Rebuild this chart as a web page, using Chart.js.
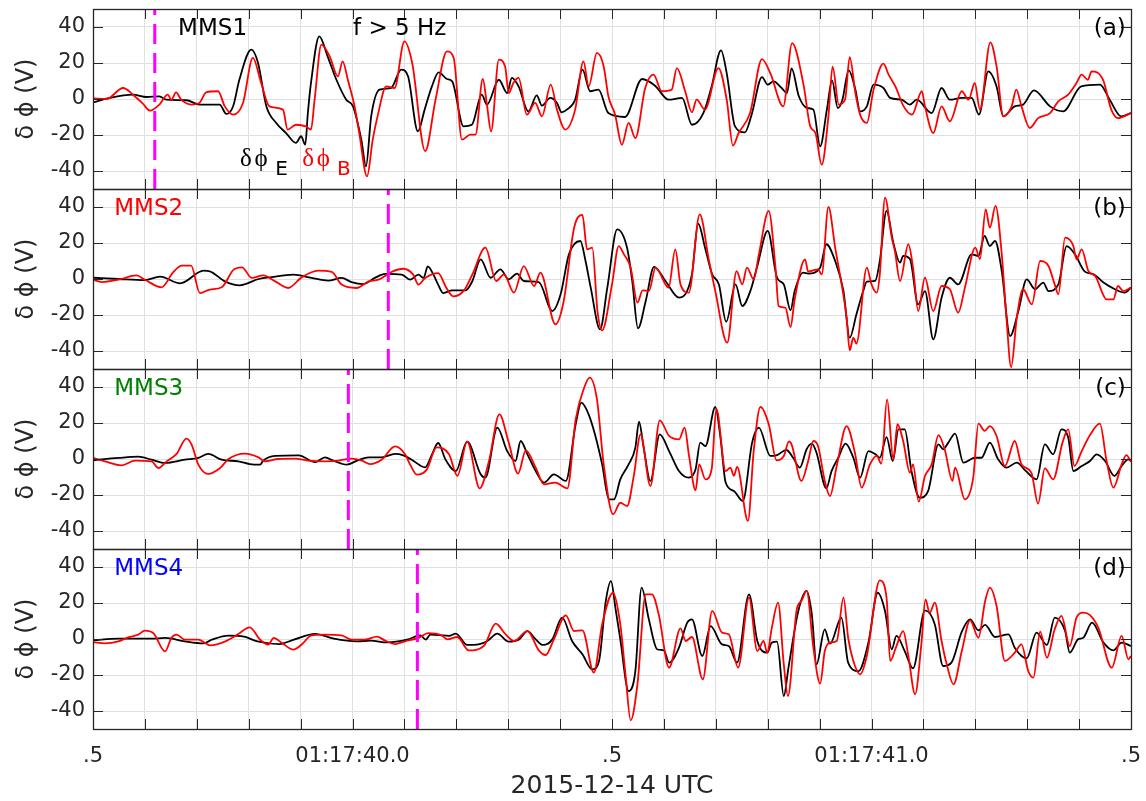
<!DOCTYPE html>
<html>
<head>
<meta charset="utf-8">
<title>MMS delta phi, f > 5 Hz</title>
<script src="https://cdn.jsdelivr.net/npm/chart.js@4.4.1/dist/chart.umd.min.js"></script>
<style>
  html, body { margin: 0; padding: 0; background: #fff; }
  canvas { display: block; }
</style>
</head>
<body>
<canvas id="chart" width="1146" height="801"></canvas>
<script>
// time axis: seconds of 01:17 (2015-12-14 UTC)
const xTickValues = [39.5, 40.0, 40.5, 41.0, 41.5];
const xTickText = ['.5', '01:17:40.0', '.5', '01:17:41.0', '.5'];
const yTickValues = [-40, -20, 0, 20, 40];

const panelNames = ['MMS1', 'MMS2', 'MMS3', 'MMS4'];
const panelNameColors = ['#000000', '#ff0000', '#008000', '#0000ff'];
const panelTags = ['(a)', '(b)', '(c)', '(d)'];
// magenta dashed markers, one per spacecraft
const markerTimes = [39.619, 40.069, 39.992, 40.125];

// [time (s), delta phi (V)]
const mms1E = [[39.500,-1.9],[39.532,0.6],[39.577,2.4],[39.603,1.1],[39.628,1.5],[39.641,-0.4],[39.680,-0.7],[39.705,-3.1],[39.744,-3.1],[39.757,-8.3],[39.770,-4],[39.782,10.7],[39.805,27.4],[39.818,20],[39.834,-4],[39.853,-13.3],[39.872,-18.9],[39.891,-24.4],[39.901,-20.7],[39.909,-25.4],[39.914,-7.8],[39.920,8.9],[39.936,34.8],[39.952,23.7],[39.969,10.7],[39.988,-0.4],[40.001,-4.1],[40.017,-22.6],[40.026,-37.4],[40.036,-9.6],[40.052,5.2],[40.074,6.1],[40.094,16.3],[40.107,12.6],[40.126,-18],[40.139,-5.9],[40.153,7],[40.166,14.8],[40.182,11.1],[40.192,9.8],[40.214,-15.2],[40.230,-14.3],[40.249,2.4],[40.259,-3.1],[40.282,10.7],[40.298,3.3],[40.307,11.7],[40.320,7],[40.339,-6.9],[40.355,2],[40.365,-3.7],[40.381,0.6],[40.394,-2.2],[40.403,-7.4],[40.413,-5.9],[40.429,-0.4],[40.443,16.3],[40.458,4.3],[40.474,5.2],[40.493,-7.8],[40.525,-10],[40.558,11.1],[40.583,7.4],[40.609,-0.4],[40.635,0.6],[40.654,-14.3],[40.676,-7.8],[40.692,7],[40.710,27],[40.721,14.4],[40.737,-15.2],[40.756,-18.5],[40.769,-8.7],[40.789,12.2],[40.800,8],[40.811,9.8],[40.827,6.1],[40.837,3.3],[40.846,17],[40.860,1.5],[40.876,-5],[40.888,-5.9],[40.901,-26.3],[40.914,-5.9],[40.924,10.4],[40.935,-5],[40.944,-0.4],[40.956,15.9],[40.969,5.2],[40.978,-6.9],[40.991,-4.1],[41.004,8],[41.023,6.1],[41.036,0.6],[41.058,-0.4],[41.074,-3.1],[41.087,-0.4],[41.116,-7.8],[41.135,6.1],[41.151,-0.4],[41.174,0.6],[41.193,0.6],[41.207,-8.7],[41.225,15.4],[41.241,7],[41.254,-9.6],[41.276,-4.1],[41.292,-3.1],[41.313,4.8],[41.344,-4.1],[41.369,-6.9],[41.404,7],[41.440,8],[41.459,-0.4],[41.481,-9.6],[41.500,-7.8]];
const mms1B = [[39.500,0.4],[39.526,0],[39.558,6.1],[39.577,2.4],[39.596,-2.6],[39.610,-6.5],[39.628,-3.1],[39.644,2.4],[39.651,-0.4],[39.660,3.7],[39.670,-0.4],[39.689,-3.1],[39.705,-2.2],[39.718,3.7],[39.741,4.3],[39.754,-4.1],[39.770,-8.7],[39.789,-2.2],[39.808,22.8],[39.824,8.9],[39.840,-4.1],[39.866,-5.9],[39.875,-17],[39.891,-14.3],[39.910,-15.2],[39.920,-17],[39.927,-0.4],[39.940,30.2],[39.956,23.7],[39.972,12.6],[39.981,20.9],[39.991,10.7],[40.004,-4.1],[40.013,-18.9],[40.028,-43],[40.039,-22.6],[40.049,-8.7],[40.065,7],[40.081,6.1],[40.100,32],[40.115,20],[40.140,-29],[40.160,-0.4],[40.182,26.5],[40.195,22.8],[40.211,-22.6],[40.227,-19.8],[40.237,-19.8],[40.251,11.1],[40.259,-3.1],[40.267,-18],[40.282,21.9],[40.294,18.1],[40.301,3.3],[40.310,8.9],[40.320,11.7],[40.336,-8.7],[40.352,-2.2],[40.365,-9.6],[40.382,8],[40.394,-5.9],[40.410,-17],[40.429,-5.9],[40.445,20.9],[40.455,7],[40.471,25.6],[40.484,18.1],[40.493,1.5],[40.506,-8.7],[40.519,-25.4],[40.532,-13.3],[40.545,-21.7],[40.564,6.1],[40.580,13.5],[40.596,4.3],[40.615,5.2],[40.625,17.2],[40.641,4.3],[40.654,-7.4],[40.663,-0.4],[40.679,-5.9],[40.705,17.2],[40.721,-0.4],[40.733,-25.9],[40.744,-18.9],[40.766,-7.8],[40.789,22.2],[40.805,14.4],[40.830,-4.1],[40.847,31],[40.869,8],[40.882,-15.2],[40.892,-18.9],[40.904,-36.5],[40.917,-9.6],[40.925,18],[40.937,-3.1],[40.949,-0.4],[40.958,23.3],[40.969,3.3],[40.978,-8.7],[40.991,-13.3],[41.004,5.2],[41.023,19.6],[41.033,13.5],[41.046,7],[41.062,-4.1],[41.078,-8.7],[41.097,4.3],[41.103,-4.1],[41.119,-18.9],[41.135,-4.1],[41.151,-12.4],[41.174,4.3],[41.187,-0.4],[41.199,8.9],[41.209,-5.9],[41.229,31.5],[41.241,18.1],[41.254,-9.6],[41.270,-4.1],[41.279,5.2],[41.289,-4.1],[41.305,-16.1],[41.321,-10.6],[41.344,-7.8],[41.360,-1.3],[41.379,2.4],[41.395,8.9],[41.405,13.5],[41.417,10.7],[41.424,15.4],[41.446,10.7],[41.462,-5.9],[41.475,-10.6],[41.500,-7.8]];

const mms2E = [[39.500,0.7],[39.549,0],[39.600,-0.6],[39.629,1.3],[39.668,-2.4],[39.713,4.6],[39.725,4.3],[39.754,-1.3],[39.783,-3.5],[39.819,0],[39.844,1.1],[39.886,2.4],[39.921,0.6],[39.953,-0.9],[39.979,0.6],[39.998,-1.7],[40.021,-2.8],[40.043,0.6],[40.063,2.8],[40.095,2.4],[40.111,-0.4],[40.127,2.4],[40.137,0.6],[40.145,7],[40.156,2.4],[40.165,-3.1],[40.175,-7.8],[40.192,-6.3],[40.218,-6.3],[40.231,-1.1],[40.247,10.9],[40.266,0.7],[40.285,5.4],[40.301,-0.2],[40.317,3],[40.330,-1.1],[40.359,-1.7],[40.385,-17.8],[40.401,-8.5],[40.417,13.7],[40.439,21.1],[40.449,10],[40.459,-4.8],[40.477,-28],[40.491,-4.8],[40.510,27.6],[40.529,17.4],[40.539,-1.1],[40.550,-27.4],[40.565,-12.2],[40.581,6.7],[40.603,-1.1],[40.629,-10.4],[40.654,2.6],[40.666,30.7],[40.680,16.5],[40.693,2.6],[40.706,-3],[40.720,-23.7],[40.738,-3],[40.751,-15],[40.767,-6.3],[40.780,7.2],[40.800,26.7],[40.818,0.7],[40.831,-3],[40.844,-17.4],[40.852,-6.7],[40.868,3.5],[40.878,3],[40.901,6.3],[40.913,19.3],[40.930,10],[40.946,-6.7],[40.958,-32.6],[40.971,-19.6],[40.984,-6.7],[40.991,-1.5],[41.007,-1.1],[41.016,10],[41.029,37.8],[41.042,20.2],[41.055,9.1],[41.061,12.8],[41.074,11.1],[41.090,-14.1],[41.103,-6.7],[41.119,-33.5],[41.135,-10.4],[41.151,0.7],[41.167,-3],[41.193,13.7],[41.206,12.8],[41.218,23.9],[41.228,18.3],[41.238,21.1],[41.251,4.4],[41.267,-31.7],[41.283,-17.8],[41.299,-0.2],[41.315,-5.7],[41.331,-2],[41.341,-6.7],[41.360,-3],[41.376,18.3],[41.392,13.7],[41.411,4.1],[41.428,2.6],[41.447,-2],[41.469,-5.7],[41.488,-7.6],[41.500,-4.8]];
const mms2B = [[39.500,-0.4],[39.517,-1.7],[39.549,-0.4],[39.584,2],[39.600,-0.4],[39.632,-4.6],[39.655,3.9],[39.671,7.4],[39.689,7.4],[39.706,-7.8],[39.725,-5.9],[39.748,-4.6],[39.771,5.2],[39.787,6.5],[39.806,0.6],[39.828,2],[39.851,-1.3],[39.876,-5],[39.902,0.9],[39.934,4.6],[39.960,3.9],[39.979,-3.1],[40.008,-5],[40.031,-1.3],[40.050,-0.4],[40.075,3.9],[40.098,5.7],[40.117,2.4],[40.127,-3.1],[40.140,0.6],[40.165,3.3],[40.181,-5],[40.194,-9.6],[40.215,-6.3],[40.231,2.6],[40.256,17.4],[40.277,-1.1],[40.292,2.6],[40.311,-7.6],[40.330,7.2],[40.350,-3.9],[40.362,3.5],[40.391,-25.2],[40.407,-12.2],[40.427,28.5],[40.443,35.6],[40.452,16.5],[40.462,17.4],[40.472,-17.8],[40.481,-28.5],[40.500,-3],[40.513,18.3],[40.523,13.7],[40.536,6.3],[40.549,-13.1],[40.559,-6.3],[40.571,-6.7],[40.584,6.3],[40.609,-4.8],[40.622,16.5],[40.632,-3],[40.648,-7.6],[40.669,35.9],[40.687,10],[40.699,-6.7],[40.722,-35.4],[40.740,4.4],[40.751,-3],[40.760,6.3],[40.773,-0.2],[40.783,13.7],[40.802,37.8],[40.815,6.3],[40.821,-15],[40.834,-15.9],[40.844,-26.7],[40.852,-11.3],[40.872,10.9],[40.878,4.1],[40.897,5.4],[40.904,2.6],[40.917,40],[40.930,17.4],[40.952,-21.5],[40.958,-39.6],[40.965,-32.6],[40.971,-35.9],[40.991,6.3],[41.000,-3],[41.010,-7.6],[41.016,2.6],[41.026,45.2],[41.039,23],[41.045,15.6],[41.055,-1.1],[41.071,19.3],[41.080,6.3],[41.090,-17.8],[41.103,0.7],[41.119,-17.8],[41.135,-3.9],[41.151,-5.7],[41.167,-18.7],[41.180,-4.8],[41.200,17.4],[41.209,11.1],[41.220,38.7],[41.228,28.5],[41.239,40.6],[41.251,13.7],[41.260,-21.5],[41.269,-49],[41.280,-21.5],[41.292,-5.7],[41.309,-14.1],[41.325,10],[41.341,7.2],[41.353,-3],[41.360,-8.5],[41.373,23],[41.389,18.3],[41.395,10.9],[41.405,16.5],[41.418,4.4],[41.431,1.7],[41.453,-11.3],[41.466,-11.3],[41.475,-3.9],[41.485,-6.7],[41.500,-4.8]];

const mms3E = [[39.500,-0.7],[39.549,0.6],[39.587,1.3],[39.613,-0.4],[39.639,-2.2],[39.677,-0.4],[39.703,0.6],[39.722,2.8],[39.748,-0.4],[39.780,-1.3],[39.802,-2.8],[39.822,-3.1],[39.828,-0.9],[39.851,1.7],[39.896,2],[39.928,-1.7],[39.947,0.9],[39.963,-0.9],[39.989,-3.1],[40.011,-0.6],[40.031,0.9],[40.056,0.9],[40.082,2.8],[40.098,2],[40.114,-0.4],[40.140,-4.6],[40.153,2.4],[40.165,8.9],[40.179,-0.2],[40.199,-6.7],[40.221,9.6],[40.247,-8.5],[40.256,-10.4],[40.279,17.4],[40.298,4.4],[40.314,-1.1],[40.324,10],[40.337,2.6],[40.353,-6.7],[40.369,-13.1],[40.388,-8.5],[40.411,-12.2],[40.430,19.3],[40.441,31.3],[40.455,24.8],[40.468,12.8],[40.481,-3],[40.494,-22.4],[40.504,-22.4],[40.516,-11.3],[40.532,-3],[40.545,6.3],[40.552,20.7],[40.561,6.3],[40.574,-12.2],[40.592,13.7],[40.610,4.4],[40.629,-6.7],[40.648,-10.4],[40.661,-5.7],[40.670,9.1],[40.680,7.2],[40.699,28.9],[40.709,11.9],[40.719,-13.1],[40.735,-17.8],[40.752,-23.3],[40.770,9.1],[40.783,17.4],[40.805,1.7],[40.818,2.2],[40.836,5],[40.849,0.7],[40.862,-4.8],[40.875,5.4],[40.885,8.5],[40.894,3.5],[40.913,-16.3],[40.923,-6.7],[40.936,0.7],[40.950,8.5],[40.965,0.7],[40.978,-10.4],[40.994,4.4],[41.008,2.6],[41.016,0.7],[41.029,12.2],[41.041,-1.1],[41.052,16.5],[41.064,16.5],[41.077,-6.7],[41.093,-21.5],[41.109,-17.8],[41.129,8.1],[41.138,5.4],[41.148,9.1],[41.161,14.1],[41.177,-2],[41.199,0.7],[41.212,0.7],[41.228,9.1],[41.244,-0.2],[41.260,-4.8],[41.280,-2],[41.296,-6.3],[41.318,-11.3],[41.334,8.1],[41.350,2.6],[41.366,16.5],[41.379,11.9],[41.389,-6.7],[41.405,-3.9],[41.421,-1.1],[41.434,2.6],[41.450,-1.1],[41.468,-9.4],[41.482,-3.9],[41.495,-0.2],[41.500,-1.1]];
const mms3B = [[39.500,0.6],[39.523,-1.3],[39.555,-3.5],[39.581,-0.9],[39.613,-1.3],[39.626,-5],[39.642,-1.3],[39.661,2.8],[39.680,11.3],[39.690,8],[39.703,-3.1],[39.722,-8.3],[39.745,-5],[39.761,0],[39.793,3],[39.819,0.9],[39.831,-1.3],[39.857,0],[39.889,0.2],[39.914,-0.9],[39.947,-1.3],[39.973,-0.9],[39.998,0.2],[40.018,-0.9],[40.034,-2.8],[40.056,-0.4],[40.082,7],[40.101,2.8],[40.111,-3.1],[40.124,-8.7],[40.143,-5.9],[40.162,6.5],[40.186,2.6],[40.202,-9.4],[40.221,9.6],[40.245,-16.3],[40.263,-1.1],[40.283,24.8],[40.301,9.1],[40.319,-8.1],[40.334,4.8],[40.353,-4.8],[40.369,-14.1],[40.391,-13.1],[40.414,-16.3],[40.430,22],[40.446,39.3],[40.457,45.2],[40.471,33.1],[40.484,-3],[40.502,-30.7],[40.516,-24.3],[40.529,-26.1],[40.542,-9.4],[40.555,13.7],[40.574,-15],[40.592,21.5],[40.610,12.8],[40.629,10.9],[40.640,17.4],[40.648,2.6],[40.661,-17.4],[40.668,-3],[40.680,-11.3],[40.692,-5.7],[40.701,28],[40.719,-6.7],[40.728,-4.8],[40.735,-9.4],[40.741,-4.4],[40.762,-34.4],[40.773,4.4],[40.786,28.9],[40.802,19.3],[40.817,-0.7],[40.831,1.7],[40.841,9.8],[40.846,8.1],[40.865,-12.2],[40.878,-1.1],[40.888,10],[40.897,7.2],[40.910,-12.2],[40.920,-20.6],[40.933,-3.9],[40.952,18.3],[40.968,3.5],[40.981,-15.9],[40.997,-3],[41.010,1.7],[41.019,-2.6],[41.030,33.1],[41.042,-0.2],[41.050,19.3],[41.061,10],[41.074,-7.6],[41.080,-3],[41.091,-23.7],[41.103,-9.4],[41.116,-3],[41.129,13.3],[41.141,5.4],[41.156,-12.2],[41.161,-4.8],[41.180,-22.4],[41.196,-10.4],[41.206,19.6],[41.218,15.6],[41.228,18.3],[41.241,12.8],[41.257,-3.9],[41.276,10],[41.289,-3],[41.308,-7.6],[41.321,-24.8],[41.334,-5.2],[41.350,-11.3],[41.368,9.1],[41.379,16.5],[41.391,-3.9],[41.405,4.4],[41.421,13.3],[41.440,19.6],[41.453,-1.1],[41.466,-15.9],[41.482,-3],[41.491,2.2],[41.500,-1.5]];

const mms4E = [[39.500,-0.7],[39.549,0.2],[39.613,0.2],[39.639,0.6],[39.677,-1.3],[39.713,-2.4],[39.729,-0.4],[39.761,1.9],[39.791,1.3],[39.817,-1.3],[39.859,-2.8],[39.887,-0.4],[39.928,2.8],[39.964,0.2],[40.009,-1.3],[40.035,-0.9],[40.067,-1.9],[40.105,-0.4],[40.131,2],[40.141,-0.4],[40.150,2.4],[40.167,2.2],[40.186,1.7],[40.199,3],[40.221,-3.3],[40.243,-3],[40.260,-1.1],[40.279,3],[40.301,-1.5],[40.321,-0.2],[40.337,4.4],[40.353,-0.2],[40.367,-3.3],[40.385,-0.2],[40.404,11.9],[40.423,-1.1],[40.443,-8.5],[40.462,-16.9],[40.475,-12.2],[40.488,21.1],[40.498,32.2],[40.507,16.5],[40.516,-0.2],[40.532,-28.9],[40.545,-17.8],[40.557,28.5],[40.571,10.9],[40.587,-5.7],[40.600,-6.3],[40.610,-13.1],[40.629,-4.8],[40.645,9.1],[40.654,10.9],[40.674,-9.4],[40.690,7.2],[40.712,-3],[40.725,-3.9],[40.741,-13.1],[40.764,24.8],[40.780,-1.1],[40.799,-7.6],[40.808,-2],[40.818,-1.5],[40.831,-31.7],[40.840,-15.9],[40.859,15.6],[40.875,26.7],[40.885,13.7],[40.894,-14.1],[40.910,5.4],[40.920,-2.6],[40.942,11.9],[40.955,-13.1],[40.975,-17.8],[40.994,-2],[41.012,25.7],[41.026,15.6],[41.039,-5.7],[41.048,1.7],[41.064,-6.7],[41.080,-16.3],[41.103,15.9],[41.122,8.1],[41.138,-15],[41.154,-13.1],[41.174,4.1],[41.190,10.9],[41.206,4.8],[41.219,7.8],[41.238,1.1],[41.264,2.6],[41.276,-4.8],[41.299,-10.7],[41.318,3.5],[41.338,-3.3],[41.353,11.9],[41.373,4.4],[41.382,-7.6],[41.398,-0.2],[41.408,0.7],[41.425,9.1],[41.447,-2],[41.466,-6.3],[41.482,-2],[41.500,-3.9]];
const mms4B = [[39.500,-1.7],[39.523,-2.4],[39.549,-1.3],[39.568,0.9],[39.587,2.4],[39.600,4.6],[39.616,3.3],[39.639,-6.9],[39.651,0.6],[39.661,2.4],[39.677,-0.4],[39.703,-0.4],[39.726,-3.5],[39.755,-1.3],[39.780,2.8],[39.802,6.5],[39.822,-0.4],[39.838,-3.1],[39.848,0.6],[39.864,-2.2],[39.886,-5.9],[39.902,-3.1],[39.921,2],[39.947,2.4],[39.979,2],[39.998,-0.4],[40.024,-0.4],[40.047,1.3],[40.063,-0.9],[40.082,-2.8],[40.101,-1.3],[40.127,0.6],[40.146,3.3],[40.172,2],[40.183,-0.2],[40.202,1.1],[40.224,-6.3],[40.253,-3.9],[40.276,8.5],[40.295,2.6],[40.311,-1.1],[40.337,4.4],[40.359,-6.3],[40.372,-8.9],[40.388,-0.2],[40.411,13.1],[40.427,4.4],[40.443,4.8],[40.465,-18.7],[40.481,8.1],[40.502,25.7],[40.516,8.1],[40.526,-19.6],[40.536,-45.2],[40.549,-25.2],[40.565,24.8],[40.577,24.8],[40.590,13.7],[40.610,-15.9],[40.632,5.9],[40.642,-1.1],[40.654,1.1],[40.675,-22.4],[40.693,15.6],[40.712,3.5],[40.725,2.6],[40.743,-15.9],[40.764,23],[40.780,-6.7],[40.792,-1.1],[40.799,-7.6],[40.808,6.3],[40.820,20.2],[40.831,-14.1],[40.839,-31.7],[40.856,16.5],[40.865,21.1],[40.875,26.7],[40.888,-4.8],[40.901,-24.8],[40.910,-6.7],[40.920,-2],[40.933,-1.1],[40.946,23],[40.955,0.7],[40.965,-12.2],[40.978,-19.6],[40.991,-9.4],[41.016,32.6],[41.029,23],[41.036,-12.2],[41.048,-3.9],[41.061,4.4],[41.071,-9.4],[41.084,-30.7],[41.096,-3],[41.104,22],[41.112,14.6],[41.122,20.2],[41.135,-1.1],[41.145,-14.1],[41.158,-25.2],[41.174,-6.7],[41.190,10.4],[41.206,0.7],[41.219,21.1],[41.228,28.5],[41.241,18.3],[41.257,-12.2],[41.276,-7.6],[41.289,-3],[41.302,-17.8],[41.312,-21.5],[41.325,4.1],[41.338,-10.4],[41.353,5.4],[41.366,12.8],[41.382,-3.9],[41.395,11.9],[41.408,14.6],[41.421,13.3],[41.437,6.3],[41.463,-15.9],[41.482,1.7],[41.495,-11.3],[41.500,-9.4]];

const seriesE = [mms1E, mms2E, mms3E, mms4E];
const seriesB = [mms1B, mms2B, mms3B, mms4B];

const FONT = '"DejaVu Sans", "Liberation Sans", sans-serif';
const AXIS_COLOR = '#262626';
const GRID_COLOR = '#dfdfdf';
const panelIds = ['pa', 'pb', 'pc', 'pd'];

// 0.1 s grid between the two ends of the window
const gridTimes = [];
for (let k = 0; k <= 20; k++) gridTimes.push(Math.round((39.5 + k / 10) * 10) / 10);

function xLabel(v) {
  const i = xTickValues.findIndex(t => Math.abs(t - v) < 1e-6);
  return i >= 0 ? xTickText[i] : '';
}

function toPoints(arr) {
  return arr.map(p => ({x: p[0], y: p[1]}));
}

function panelAxis(i) {
  return {
    type: 'linear',
    position: 'left',
    stack: 'panels',
    stackWeight: 1,
    weight: 4 - i,
    min: -50,
    max: 50,
    afterBuildTicks: s => { s.ticks = yTickValues.map(v => ({value: v})); },
    afterFit: s => { s.width = 93; s.paddingTop = 0; s.paddingBottom = 0; },
    ticks: {autoSkip: false, font: {family: FONT, size: 21}, color: AXIS_COLOR, padding: 8},
    grid: {color: GRID_COLOR, drawTicks: false},
    border: {display: false},
    title: {
      display: true,
      text: 'δ ϕ (V)',
      font: {family: FONT, size: 24},
      color: AXIS_COLOR,
      padding: {top: 12, bottom: 0}
    }
  };
}

const datasets = [];
const scales = {
  x: {
    type: 'linear',
    position: 'bottom',
    min: 39.5,
    max: 41.5,
    afterBuildTicks: s => { s.ticks = gridTimes.map(v => ({value: v})); },
    afterFit: s => { s.height = 72; s.paddingLeft = 0; s.paddingRight = 0; },
    ticks: {autoSkip: false, maxRotation: 0, padding: 15, font: {family: FONT, size: 21}, color: AXIS_COLOR, callback: v => xLabel(v)},
    grid: {color: GRID_COLOR, drawTicks: false},
    border: {display: false},
    title: {display: true, text: '2015-12-14 UTC', font: {family: FONT, size: 25}, color: AXIS_COLOR, padding: {top: 0, bottom: 0}}
  }
};

panelIds.forEach((id, i) => {
  scales[id] = panelAxis(i);
  datasets.push({
    label: panelNames[i] + ' δϕE',
    data: toPoints(seriesE[i]),
    yAxisID: id,
    borderColor: '#000000',
    borderWidth: 1.8,
    pointRadius: 0,
    cubicInterpolationMode: 'monotone',
    order: 2
  });
  datasets.push({
    label: panelNames[i] + ' δϕB',
    data: toPoints(seriesB[i]),
    yAxisID: id,
    borderColor: '#ff0000',
    borderWidth: 1.8,
    pointRadius: 0,
    cubicInterpolationMode: 'monotone',
    order: 1
  });
  datasets.push({
    label: panelNames[i] + ' marker',
    data: [{x: markerTimes[i], y: -50}, {x: markerTimes[i], y: 50}],
    yAxisID: id,
    borderColor: '#ff00ff',
    borderWidth: 3,
    borderDash: [20, 9],
    pointRadius: 0,
    order: 0
  });
});

// box, inward ticks and in-panel texts (MATLAB look)
const panelDecor = {
  id: 'panelDecor',
  afterDatasetsDraw(chart) {
    const ctx = chart.ctx;
    const xs = chart.scales.x;
    const area = chart.chartArea;
    ctx.save();
    panelIds.forEach((id, i) => {
      const ys = chart.scales[id];
      const top = ys.top, bottom = ys.bottom;
      ctx.strokeStyle = AXIS_COLOR;
      ctx.lineWidth = 1;
      ctx.beginPath();
      gridTimes.forEach(t => {
        const px = Math.round(xs.getPixelForValue(t)) + 0.5;
        ctx.moveTo(px, top); ctx.lineTo(px, top + 10);
        ctx.moveTo(px, bottom); ctx.lineTo(px, bottom - 10);
      });
      yTickValues.forEach(v => {
        const py = Math.round(ys.getPixelForValue(v)) + 0.5;
        ctx.moveTo(area.left, py); ctx.lineTo(area.left + 10, py);
        ctx.moveTo(area.right, py); ctx.lineTo(area.right - 10, py);
      });
      ctx.stroke();
      ctx.lineWidth = 1.3;
      ctx.strokeRect(Math.round(area.left) + 0.5, Math.round(top) + 0.5, Math.round(area.right - area.left), Math.round(bottom - top));

      const ty = ys.getPixelForValue(39);
      ctx.font = '23px ' + FONT;
      ctx.textBaseline = 'middle';
      ctx.textAlign = 'left';
      ctx.fillStyle = panelNameColors[i];
      ctx.fillText(panelNames[i], xs.getPixelForValue(i === 0 ? 39.664 : 39.541), ty);
      ctx.fillStyle = '#000000';
      ctx.textAlign = 'right';
      ctx.fillText(panelTags[i], xs.getPixelForValue(41.490), ty);
      if (i === 0) {
        ctx.textAlign = 'left';
        ctx.fillText('f > 5 Hz', xs.getPixelForValue(40.001), ty);
        // legend: delta phi_E (black), delta phi_B (red)
        const by = ys.getPixelForValue(-37);
        ctx.textBaseline = 'alphabetic';
        const parts = [
          {t: 'δ', x: 39.783, c: '#000000'}, {t: 'ϕ', x: 39.811, c: '#000000'},
          {t: 'δ', x: 39.903, c: '#ff0000'}, {t: 'ϕ', x: 39.931, c: '#ff0000'}
        ];
        ctx.font = '25px "Liberation Serif", serif';
        parts.forEach(p => { ctx.fillStyle = p.c; ctx.fillText(p.t, xs.getPixelForValue(p.x), by); });
        ctx.font = '20px ' + FONT;
        ctx.fillStyle = '#000000';
        ctx.fillText('E', xs.getPixelForValue(39.851), by + 9);
        ctx.fillStyle = '#ff0000';
        ctx.fillText('B', xs.getPixelForValue(39.970), by + 9);
      }
    });
    ctx.restore();
  }
};

new Chart(document.getElementById('chart'), {
  type: 'line',
  data: {datasets: datasets},
  options: {
    responsive: false,
    animation: false,
    events: [],
    layout: {padding: {top: 9, right: 15, left: 0, bottom: 0}},
    plugins: {legend: {display: false}, tooltip: {enabled: false}},
    scales: scales
  },
  plugins: [panelDecor]
});
</script>
</body>
</html>
